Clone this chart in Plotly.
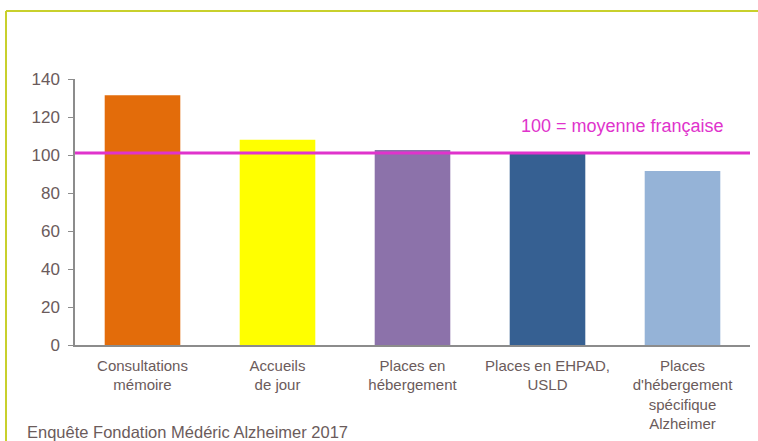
import plotly.graph_objects as go

categories = ["Consultations<br>mémoire", "Accueils<br>de jour", "Places en<br>hébergement",
              "Places en EHPAD,<br>USLD", "Places<br>d'hébergement<br>spécifique<br>Alzheimer"]
values = [131.5, 108, 102.6, 101, 91.6]
bar_colors = ["#e36c0a", "#ffff00", "#8c72aa", "#366092", "#95b3d7"]
reference_value = 101
reference_label = "100 = moyenne française"
y_ticks = [0, 20, 40, 60, 80, 100, 120, 140]
source = "Enquête Fondation Médéric Alzheimer 2017"

txt = "#6b5b5b"
font_family = "Liberation Sans, Arial, sans-serif"

fig = go.Figure(go.Bar(x=categories, y=values, marker=dict(color=bar_colors, line=dict(width=0)),
                       hoverinfo="x+y"))

W, H = 758, 441
L, R, T, B = 75, 8, 79, 96
pw, ph = W - L - R, H - T - B

def px_x(px):
    return (px - L) / pw

def px_y(py):
    return (H - B - py) / ph

border = "#c8d02c"
fig.add_shape(type="line", xref="paper", yref="paper", x0=px_x(6), x1=px_x(760), y0=px_y(11), y1=px_y(11),
              line=dict(color=border, width=2))
fig.add_shape(type="line", xref="paper", yref="paper", x0=px_x(6), x1=px_x(6), y0=px_y(11), y1=px_y(445),
              line=dict(color=border, width=2))
fig.add_shape(type="line", xref="paper", yref="y", x0=0, x1=1, y0=reference_value, y1=reference_value,
              line=dict(color="#e033cc", width=3), layer="above")

fig.add_annotation(xref="paper", yref="y", x=px_x(622), y=115.5, xanchor="center", yanchor="middle",
                   text=reference_label, showarrow=False,
                   font=dict(size=18, color="#e033cc", family=font_family))
fig.add_annotation(xref="paper", yref="paper", x=px_x(25), y=px_y(432), xanchor="left", yanchor="middle",
                   text=source, showarrow=False, font=dict(size=16.5, color=txt, family=font_family))

fig.update_layout(
    width=W, height=H, margin=dict(l=L, r=R, t=T, b=B),
    paper_bgcolor="white", plot_bgcolor="white",
    bargap=0.44, showlegend=False,
    font=dict(family=font_family, color=txt),
    xaxis=dict(showline=True, linecolor="#8c8c8c", linewidth=1.5, ticks="", showgrid=False,
               tickfont=dict(size=15, color=txt), ticklabelstandoff=6, fixedrange=True),
    yaxis=dict(range=[0, 140], tickvals=y_ticks, showline=True, linecolor="#8c8c8c", linewidth=1.5,
               ticks="outside", ticklen=5, tickcolor="#8c8c8c", showgrid=False, zeroline=False,
               tickfont=dict(size=17, color=txt), ticklabelstandoff=5, fixedrange=True),
)

fig.write_html("out.html", config={"displayModeBar": False},
               post_script="document.body.style.margin='0';document.body.style.overflow='hidden';")
